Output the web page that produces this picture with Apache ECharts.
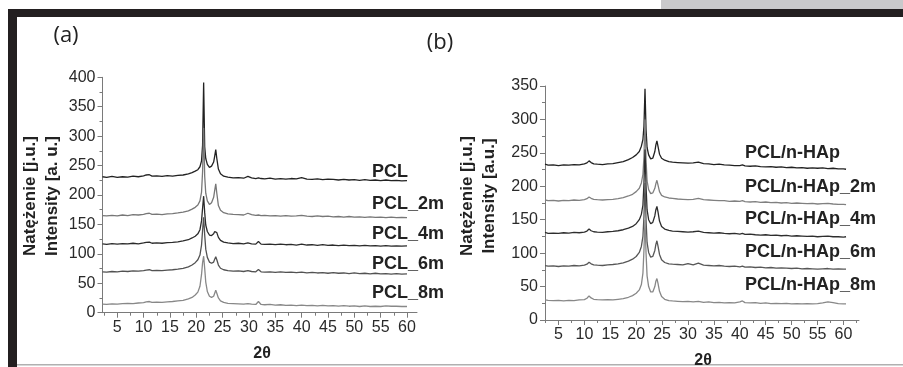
<!DOCTYPE html>
<html>
<head>
<meta charset="utf-8">
<script src="https://cdn.jsdelivr.net/npm/echarts@6/dist/echarts.min.js"></script>
<style>
  html, body { margin: 0; padding: 0; background: #fff; }
  #chart { width: 903px; height: 367px; }
</style>
</head>
<body>
<div id="chart"></div>
<script>
// ---- panel (a): PCL ----
const xA = [2.2, 3, 4, 5, 6, 7, 8, 9, 10, 10.5,
  10.8, 11.1, 11.6, 12.5, 13.5, 14.5, 15.5, 16.5, 17.5, 18.5,
  19.2, 19.8, 20.3, 20.7, 21.0, 21.2, 21.4, 21.6, 21.8, 22.1,
  22.5, 22.9, 23.3, 23.5, 23.7, 23.9, 24.2, 24.6, 25.2, 26,
  27, 28, 29, 29.8, 30.5, 31.3, 31.8, 32.3, 33, 34,
  35, 36, 37, 38, 39, 40, 41, 42, 43, 44,
  45, 46, 47, 48, 49, 50, 51, 52, 53, 54,
  55, 56, 57, 58, 59, 60];
const pclA = [231, 230, 231.5, 230, 231, 230.5, 232, 231, 232.5, 234,
  237, 234.5, 232, 232.5, 231.5, 233, 232, 233.5, 234, 236,
  238, 240.5, 243, 248, 258, 285, 391, 282, 262, 252,
  247, 249, 256, 266, 277, 262, 244, 236, 232, 230.5,
  229, 229.5, 228.5, 231.5, 229, 228, 229, 228, 227.5, 228.5,
  227, 228, 227, 228, 227.5, 229.5, 227, 226.5, 227.5, 226,
  227, 226.5, 225.5, 226.5, 225.5, 226, 225, 226, 225, 225.5,
  224.5, 225.5, 224.5, 225, 224, 224.5];
const pcl2mA = [165, 164.5, 165.5, 164.5, 166, 165, 166.5, 166, 167, 168.5,
  171, 169, 167, 167.5, 166.5, 168, 168.5, 169.5, 171, 173,
  176, 179, 183, 190, 205, 240, 314, 232, 203, 190,
  184, 187, 196, 208, 219, 203, 182, 174, 170, 168,
  167, 166.5, 166, 169, 166.5, 165.5, 166, 165, 165.5, 164.5,
  165, 164, 165, 164, 164.5, 165.5, 164, 163.5, 164.5, 163.5,
  164, 163, 163.5, 162.5, 163.5, 162.5, 163, 162, 163, 162,
  162.5, 161.5, 162.5, 161.5, 162, 161.5];
const pcl4mA = [117, 116, 117.5, 116.5, 117.5, 117, 118, 117, 118.5, 119.5,
  122, 120, 118, 118.5, 118, 119, 119.5, 120.5, 122, 124,
  127, 130, 134, 141, 156, 178, 198, 170, 149, 138,
  132, 131, 134, 138, 141, 136, 128, 123, 120, 118.5,
  117.5, 118, 117, 118.5, 117, 116.5, 121, 116.5, 116, 116.5,
  115.5, 116.5, 115.5, 116, 115, 116.5, 115, 115.5, 114.5, 115.5,
  114.5, 115, 114, 115, 114, 114.5, 113.5, 114.5, 113.5, 114,
  113, 114, 113, 113.5, 113, 113.5];
const pcl6mA = [69.5, 69, 70, 69.5, 70.5, 70, 71, 70.5, 71.5, 72.5,
  75, 73, 71.5, 72, 71.5, 72.5, 73, 74, 75.5, 78,
  81, 85, 90, 98, 115, 140, 162, 132, 108, 94,
  86, 84, 86, 91, 95, 90, 81, 75.5, 73, 71.5,
  70.5, 71, 70, 71.5, 70, 69.5, 73.5, 69.5, 69, 69.5,
  68.5, 69.5, 68.5, 69, 68, 69, 67.5, 68.5, 67.5, 68,
  67, 68, 67, 67.5, 66.5, 67.5, 66.5, 67, 66, 67,
  66, 66.5, 65.5, 66.5, 65.5, 66];
const pcl8mA = [14.5, 14, 15, 14.5, 15.5, 16, 15.5, 16.5, 17, 18.5,
  21, 19, 17.5, 18, 17.5, 18.5, 19, 20, 21, 23.5,
  26, 30, 35, 45, 65, 85, 96, 75, 52, 36,
  28, 26, 28, 33, 38, 33, 25, 20, 17.5, 16,
  15.5, 15, 14.5, 15.5, 14.5, 14, 19, 14, 13.5, 14,
  13, 13.5, 12.5, 13, 12, 13, 12, 12.5, 11.5, 12.5,
  11.5, 12, 11, 12, 11, 11.5, 10.5, 11.5, 10.5, 11,
  10.5, 11.5, 11, 11, 10.5, 10.5];

// ---- panel (b): PCL/n-HAp ----
const xB = [2.4, 3, 4, 5, 6, 7, 8, 9, 10, 10.5,
  10.9, 11.3, 11.8, 12.5, 13.5, 14.5, 15.5, 16.5, 17.5, 18.5,
  19.3, 20, 20.6, 21.0, 21.3, 21.5, 21.7, 21.9, 22.1, 22.4,
  22.8, 23.2, 23.6, 23.8, 24.0, 24.2, 24.5, 24.9, 25.5, 26.3,
  27, 28, 29, 30, 31, 32, 33, 34, 35, 36,
  37, 38, 39, 40, 40.5, 41, 42, 43, 44, 45,
  46, 47, 48, 49, 50, 51, 52, 53, 54, 55,
  56, 57, 58, 59, 60, 60.5];
const hapB = [233, 231.5, 232, 231, 232, 231.5, 232.5, 232, 233.5, 235,
  238, 235.5, 233.5, 233, 232.5, 233.5, 234, 235.5, 237, 240,
  243, 247, 252, 260, 270, 290, 346, 285, 258, 247,
  241, 242, 252, 262, 268, 260, 248, 242, 239, 237,
  236, 235.5, 235, 234.5, 235, 236, 234, 233.5, 232.5, 233,
  232, 231.5, 231, 231, 232, 230.5, 230, 230.5, 229.5, 229,
  229.5, 228.5, 229, 228, 228.5, 227.5, 228, 227, 227.5, 227,
  227.5, 226.5, 227, 226, 226, 225.5];
const hap2mB = [179.5, 178.5, 179, 178, 179, 178.5, 179.5, 179, 180, 181.5,
  184, 182, 180.5, 180, 179.5, 180, 180.5, 181.5, 183, 185.5,
  188, 192, 197, 205, 218, 245, 300, 240, 208, 195,
  189, 190, 197, 204, 209, 202, 192, 186.5, 184, 182.5,
  182, 181, 180.5, 180, 180.5, 182, 180, 179.5, 179, 178.5,
  178.5, 177.5, 178, 177.5, 178.5, 177, 176.5, 177, 176, 176.5,
  175.5, 176, 175, 175.5, 174.5, 175, 174.5, 174, 174.5, 173.5,
  174, 174.5, 173.5, 173, 173, 172.5];
const hap4mB = [131, 129.5, 130, 129.5, 130.5, 130, 131, 130.5, 131.5, 133,
  136, 133.5, 132, 131.5, 131, 132, 132.5, 133.5, 135, 137.5,
  140, 144, 150, 158, 172, 205, 255, 200, 165, 150,
  144, 146, 156, 165, 170, 162, 148, 140, 136, 134,
  133, 132.5, 132, 131.5, 132, 133, 131, 130.5, 130, 130.5,
  129.5, 129, 129.5, 128.5, 129.5, 128, 128.5, 127.5, 127, 127.5,
  126.5, 127, 126, 126.5, 125.5, 126, 125.5, 125, 125.5, 124.5,
  125, 125.5, 124.5, 124.5, 124, 124.5];
const hap6mB = [81.5, 80.5, 81, 80, 81, 80.5, 81.5, 81, 82, 83.5,
  86.5, 84, 82.5, 82, 81.5, 82.5, 83, 84, 85.5, 88,
  91, 95, 101, 110, 125, 155, 205, 150, 116, 101,
  94, 95, 104, 113, 118.5, 111, 98, 90, 86, 84,
  83.5, 83, 82.5, 84.5, 82.5, 85, 82, 81.5, 81, 81.5,
  80.5, 80, 80.5, 79.5, 80.5, 79, 79.5, 78.5, 79, 78,
  78.5, 77.5, 78, 77.5, 77, 77.5, 76.5, 77, 76.5, 76,
  76.5, 77, 76, 76.5, 76, 76];
const hap8mB = [30, 29.5, 29, 29.5, 28.5, 29.5, 29, 30, 30.5, 32.5,
  36, 33, 31, 30.5, 30, 30.5, 30, 31, 32, 34,
  36.5, 40, 45, 53, 70, 105, 150, 100, 66, 50,
  42, 42, 50, 58, 62, 55, 43, 35, 31, 29,
  28.5, 28, 27.5, 28, 27, 28, 26.5, 27, 26, 26.5,
  25.5, 26, 25.5, 27, 28.5, 26, 25.5, 26, 25, 25.5,
  24.5, 25, 24.5, 25, 24, 24.5, 24, 24.5, 24, 24.5,
  25.5, 27, 26, 24.5, 24, 24];

const namesA = ['PCL', 'PCL_2m', 'PCL_4m', 'PCL_6m', 'PCL_8m'];
const namesB = ['PCL/n-HAp', 'PCL/n-HAp_2m', 'PCL/n-HAp_4m', 'PCL/n-HAp_6m', 'PCL/n-HAp_8m'];

// tick labels
const xTickLabels = [5, 10, 15, 20, 25, 30, 35, 40, 45, 50, 55, 60];
const xMinorA = [2.5, 7.5, 12.5, 17.5, 22.5, 27.5, 32.5, 37.5, 42.5, 47.5, 52.5, 57.5];
const xMinorB = [2.5, 7.5, 12.5, 17.5, 22.5, 27.5, 32.5, 37.5, 42.5, 47.5, 52.5, 57.5, 62.5];

const AXIS = '#7a7a7a';
const TXT = '#2a2a2a';
const FONT = 'Liberation Sans';

function pairs(xs, ys) {
  return xs.map((x, i) => [x, ys[i]]);
}

function xAxes(gridIndex, min, max, minor) {
  return [
    {
      type: 'value', gridIndex, min, max, position: 'bottom',
      axisLine: { show: true, onZero: false, lineStyle: { color: AXIS, width: 1 } },
      axisTick: { show: true, customValues: xTickLabels, length: 5, lineStyle: { color: AXIS } },
      axisLabel: { customValues: xTickLabels, color: TXT, fontSize: 16, fontFamily: FONT, margin: 7 },
      splitLine: { show: false }
    },
    {
      type: 'value', gridIndex, min, max, position: 'bottom',
      axisLine: { show: false },
      axisTick: { show: true, customValues: minor, length: 3, lineStyle: { color: AXIS } },
      axisLabel: { show: false },
      splitLine: { show: false }
    }
  ];
}

function yAxis(gridIndex, max) {
  return {
    type: 'value', gridIndex, min: 0, max, interval: 50,
    axisLine: { show: true, onZero: false, lineStyle: { color: AXIS, width: 1 } },
    axisTick: { show: true, length: 5, lineStyle: { color: AXIS } },
    minorTick: { show: true, splitNumber: 2, length: 3, lineStyle: { color: AXIS } },
    axisLabel: { color: TXT, fontSize: 16, fontFamily: FONT, margin: 7 },
    splitLine: { show: false }
  };
}

function line(name, xs, ys, color, xi, yi) {
  return {
    name, type: 'line', xAxisIndex: xi, yAxisIndex: yi,
    data: pairs(xs, ys), showSymbol: false, animation: false,
    lineStyle: { color, width: 1.3 }
  };
}

function txt(text, x, y, opts) {
  return {
    type: 'text', x, y, z: 10,
    style: Object.assign({ text, fill: '#222', font: 'bold 18px "' + FONT + '"', align: 'left', verticalAlign: 'middle' }, opts || {})
  };
}

function vtxt(text, x, y) {
  return {
    type: 'text', x, y, rotation: Math.PI / 2, z: 10,
    style: { text, fill: '#222', font: 'bold 17px "' + FONT + '"', align: 'center', verticalAlign: 'middle' }
  };
}

const colorsA = ['#222222', '#777777', '#2b2b2b', '#525252', '#888888'];
const colorsB = ['#222222', '#808080', '#2e2e2e', '#575757', '#888888'];
const seriesA = [pclA, pcl2mA, pcl4mA, pcl6mA, pcl8mA];
const seriesB = [hapB, hap2mB, hap4mB, hap6mB, hap8mB];
const labelYA = [172, 204, 234, 264, 293];
const labelYB = [153, 187, 219, 252, 285];

const chart = echarts.init(document.getElementById('chart'), null, { renderer: 'canvas' });

const graphic = [
  // page frame
  { type: 'rect', shape: { x: 661, y: 0, width: 242, height: 9 }, style: { fill: '#c9c9cb' } },
  { type: 'rect', shape: { x: 8, y: 9, width: 895, height: 8 }, style: { fill: '#231f20' } },
  { type: 'rect', shape: { x: 8, y: 9, width: 9, height: 358 }, style: { fill: '#231f20' } },
  { type: 'rect', shape: { x: 17, y: 364, width: 886, height: 1.5 }, style: { fill: '#b0b0b0' } },
  // panel letters
  txt('(a)', 66, 36, { font: '22px "Open Sans"', align: 'center' }),
  txt('(b)', 440, 43, { font: '22px "Open Sans"', align: 'center' }),
  // y-axis titles
  vtxt('Natężenie [j.u.]', 30, 196),
  vtxt('Intensity [a. u.]', 52, 196),
  vtxt('Natężenie [j.u.]', 467, 196),
  vtxt('Intensity [a.u.]', 489, 196),
  // x-axis titles
  txt('2θ', 262, 354, { font: 'bold 16px "' + FONT + '"', align: 'center' }),
  txt('2θ', 703, 361, { font: 'bold 16px "' + FONT + '"', align: 'center' })
];
namesA.forEach((n, i) => graphic.push(txt(n, 372, labelYA[i])));
namesB.forEach((n, i) => graphic.push(txt(n, 745, labelYB[i])));

const series = [];
seriesA.forEach((ys, i) => series.push(line(namesA[i], xA, ys, colorsA[i], 0, 0)));
seriesB.forEach((ys, i) => series.push(line(namesB[i], xB, ys, colorsB[i], 2, 1)));

chart.setOption({
  backgroundColor: '#fff',
  animation: false,
  grid: [
    { left: 102.5, top: 77.3, width: 314.5, height: 235.4 },
    { left: 545, top: 86, width: 314, height: 234 }
  ],
  xAxis: [].concat(xAxes(0, 2.2, 61.9, xMinorA), xAxes(1, 2.4, 63, xMinorB)),
  yAxis: [yAxis(0, 400), yAxis(1, 350)],
  series,
  graphic
});
</script>
</body>
</html>
